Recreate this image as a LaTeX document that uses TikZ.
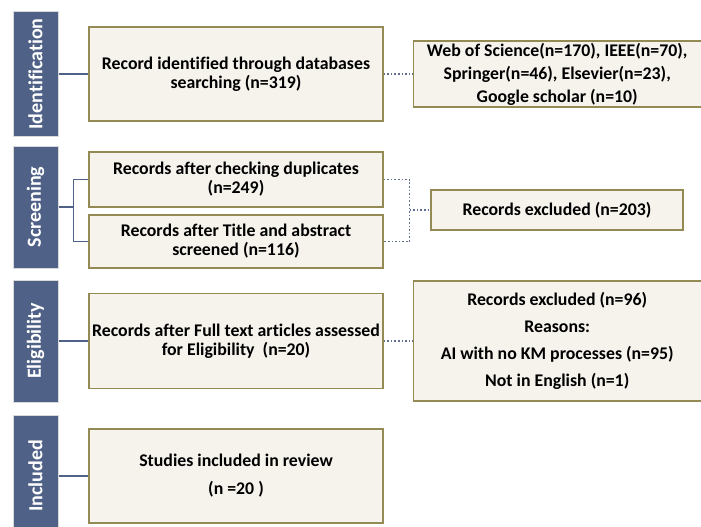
\documentclass[tikz,border=0pt]{standalone}
\usepackage{fontspec}
\setmainfont{Carlito}[Ligatures=NoCommon]
\usepackage{xcolor}
\usetikzlibrary{positioning}

\definecolor{stageblue}{RGB}{79,97,134}
\definecolor{boxfill}{RGB}{246,243,237}
\definecolor{boxline}{RGB}{148,138,84}
\definecolor{dotline}{RGB}{95,110,145}

\begin{document}
\begin{tikzpicture}[x=1pt, y=-1pt,
    stage/.style={rectangle, draw=gray!30, line width=1pt, fill=stageblue, text=white, rotate=90, minimum height=45pt, inner sep=0pt, font=\fontsize{20}{22}\selectfont\bfseries},
    block/.style={rectangle, draw=boxline, line width=1.2pt, fill=boxfill, align=center, minimum width=294pt, inner sep=1pt, font=\fontsize{17.8}{19}\selectfont\bfseries},
    note/.style={block, minimum width=288pt},
    link/.style={draw=stageblue, line width=1.5pt},
    dots/.style={draw=dotline, line width=1.6pt, dotted}]

    \useasboundingbox (0,0) rectangle (701,527);
    \clip (0,0) rectangle (701,527);

    % stages
    \node[stage, minimum width=124pt] (ident) at (35.5,74) {Identification};
    \node[stage, minimum width=122pt] (screen) at (35.5,207) {Screening};
    \node[stage, minimum width=122pt] (elig) at (35.5,341) {Eligibility};
    \node[stage, minimum width=122pt] (incl) at (35.5,476) {Included};

    % records
    \node[block, minimum height=94pt] (rec1) at (236,74) {Record identified through databases\\searching (n=319)};
    \node[block, minimum height=55pt] (rec2) at (236,179.5) {Records after checking duplicates\\(n=249)};
    \node[block, minimum height=53pt] (rec3) at (236,241.5) {Records after Title and abstract\\screened (n=116)};
    \node[block, minimum height=95pt] (rec4) at (236,341) {Records after Full text articles assessed\\for Eligibility~~(n=20)};
    \node[block, minimum height=94pt] (rec5) at (236,476) {Studies included in review\\[9pt](n =20 )};

    \node[note, minimum height=66pt, right=29pt of rec1] (sources) {Web of Science(n=170), IEEE(n=70),\\[4pt]Springer(n=46), Elsevier(n=23),\\[4pt]Google scholar (n=10)};
    \node[block, minimum width=252pt, minimum height=40pt] (excl1) at (557,210) {Records excluded (n=203)};
    \node[note, minimum height=120pt, right=29pt of rec4] (excl2) {Records excluded (n=96)\\[8pt]Reasons:\\[8pt]AI with no KM processes (n=95)\\[8pt]Not in English (n=1)};

    \draw[link] (ident.south) -- (rec1.west);
    \draw[link] (screen.south) -- ++(15,0) coordinate (fork);
    \draw[link] (rec2.west) -| (fork) |- (rec3.west);
    \draw[link] (elig.south) -- (rec4.west);
    \draw[link] (incl.south) -- (rec5.west);

    \draw[dots] (rec1.east) -- (sources.west);
    \draw[dots] (rec2.east) -- ++(26,0) coordinate (join) |- (rec3.east);
    \draw[dots] (join |- excl1.west) -- (excl1.west);
    \draw[dots] (rec4.east) -- (excl2.west);

\end{tikzpicture}
\end{document}
